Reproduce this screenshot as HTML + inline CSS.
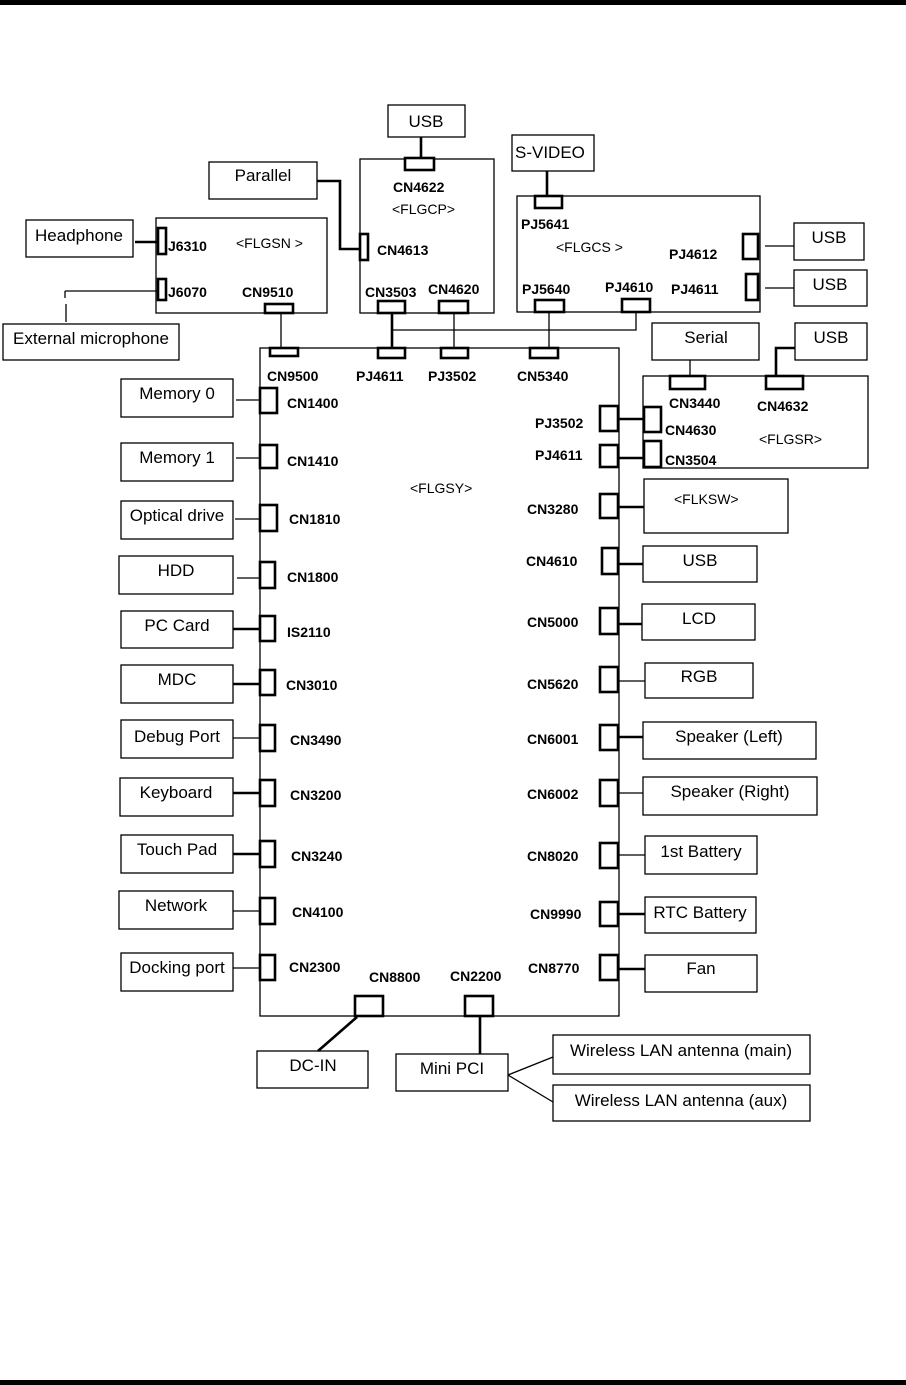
<!DOCTYPE html>
<html><head><meta charset="utf-8"><style>
html,body{margin:0;padding:0;background:#fff}
svg{display:block}
.b{fill:none;stroke:#000;stroke-width:1.3}
.c{fill:#fff;stroke:#000;stroke-width:2.6}
.l{stroke:#000;stroke-width:1.3;fill:none}
.t{stroke:#000;stroke-width:2.6;fill:none}
.n{font-family:"Liberation Sans",sans-serif;font-size:17px;text-anchor:middle}
.k{font-family:"Liberation Sans",sans-serif;font-size:14px;font-weight:bold}
.s{font-family:"Liberation Sans",sans-serif;font-size:14px}
</style></head><body>
<svg width="906" height="1385" viewBox="0 0 906 1385" xmlns="http://www.w3.org/2000/svg">
<rect x="0" y="0" width="906" height="5" fill="#000"/>
<rect x="0" y="1380" width="906" height="5" fill="#000"/>

<!-- main board -->
<rect class="b" x="260" y="348" width="359" height="668"/>
<text class="s" x="410" y="493">&lt;FLGSY&gt;</text>

<!-- FLGSN -->
<rect class="b" x="156" y="218" width="171" height="95"/>
<text class="s" x="236" y="248">&lt;FLGSN &gt;</text>
<rect class="b" x="26" y="220" width="107" height="37"/><text class="n" x="79" y="241">Headphone</text>
<line class="t" x1="135" y1="242" x2="158" y2="242"/>
<rect class="c" x="158" y="228" width="8" height="26"/><text class="k" x="168" y="251">J6310</text>
<rect class="c" x="158" y="279" width="8" height="21"/><text class="k" x="168" y="297">J6070</text>
<polyline class="l" points="158,291 65,291"/><line class="l" x1="65" y1="291" x2="65" y2="298"/><line class="l" x1="66" y1="304" x2="66" y2="322"/>
<rect class="b" x="3" y="324" width="176" height="36"/><text class="n" x="91" y="344">External microphone</text>
<text class="k" x="242" y="297">CN9510</text>
<rect class="c" x="265" y="304" width="28" height="9"/>
<line class="l" x1="281" y1="313" x2="281" y2="348"/>
<rect class="c" x="270" y="348" width="28" height="8"/><text class="k" x="267" y="381">CN9500</text>

<!-- FLGCP -->
<rect class="b" x="360" y="159" width="134" height="154"/>
<rect class="b" x="388" y="105" width="77" height="32"/><text class="n" x="426" y="127">USB</text>
<line class="t" x1="421" y1="137" x2="421" y2="158"/>
<rect class="c" x="405" y="158" width="29" height="12"/>
<text class="k" x="393" y="192">CN4622</text>
<text class="s" x="392" y="214">&lt;FLGCP&gt;</text>
<rect class="b" x="209" y="162" width="108" height="37"/><text class="n" x="263" y="181">Parallel</text>
<polyline class="t" points="317,181 340,181 340,249 360,249"/>
<rect class="c" x="360" y="234" width="8" height="26"/><text class="k" x="377" y="255">CN4613</text>
<text class="k" x="365" y="297">CN3503</text><text class="k" x="428" y="294">CN4620</text>
<rect class="c" x="378" y="301" width="27" height="12"/>
<rect class="c" x="439" y="301" width="29" height="12"/>
<line class="t" x1="392" y1="313" x2="392" y2="348"/>
<line class="l" x1="454" y1="313" x2="454" y2="348"/>
<polyline class="l" points="392,330 636,330 636,312"/>
<rect class="c" x="378" y="348" width="27" height="10"/><text class="k" x="356" y="381">PJ4611</text>
<rect class="c" x="441" y="348" width="27" height="10"/><text class="k" x="428" y="381">PJ3502</text>
<rect class="c" x="530" y="348" width="28" height="10"/><text class="k" x="517" y="381">CN5340</text>

<!-- FLGCS -->
<rect class="b" x="517" y="196" width="243" height="116"/>
<rect class="b" x="512" y="135" width="82" height="36"/><text class="s" x="515" y="158" style="font-size:17px">S-VIDEO</text>
<line class="t" x1="547" y1="171" x2="547" y2="196"/>
<rect class="c" x="535" y="196" width="27" height="12"/>
<text class="k" x="521" y="229">PJ5641</text>
<text class="s" x="556" y="252">&lt;FLGCS &gt;</text>
<text class="k" x="669" y="259">PJ4612</text>
<rect class="c" x="743" y="234" width="15" height="25"/>
<text class="k" x="671" y="294">PJ4611</text>
<rect class="c" x="746" y="274" width="12" height="26"/>
<line class="l" x1="765" y1="246" x2="794" y2="246"/><line class="l" x1="765" y1="288" x2="794" y2="288"/>
<rect class="b" x="794" y="223" width="70" height="37"/><text class="n" x="829" y="243">USB</text>
<rect class="b" x="794" y="270" width="73" height="36"/><text class="n" x="830" y="290">USB</text>
<text class="k" x="522" y="294">PJ5640</text><text class="k" x="605" y="292">PJ4610</text>
<rect class="c" x="535" y="300" width="29" height="12"/>
<rect class="c" x="622" y="299" width="28" height="13"/>
<line class="l" x1="549" y1="312" x2="549" y2="348"/>

<!-- FLGSR -->
<rect class="b" x="643" y="376" width="225" height="92"/>
<rect class="b" x="652" y="323" width="107" height="37"/><text class="n" x="706" y="343">Serial</text>
<line class="l" x1="690" y1="360" x2="690" y2="376"/>
<rect class="c" x="670" y="376" width="35" height="13"/>
<rect class="b" x="795" y="323" width="72" height="37"/><text class="n" x="831" y="343">USB</text>
<polyline class="t" points="795,348 776,348 776,376"/>
<rect class="c" x="766" y="376" width="37" height="13"/>
<text class="k" x="669" y="408">CN3440</text><text class="k" x="757" y="411">CN4632</text>
<rect class="c" x="644" y="407" width="17" height="25"/><text class="k" x="665" y="435">CN4630</text>
<rect class="c" x="644" y="441" width="17" height="26"/><text class="k" x="665" y="465">CN3504</text>
<text class="s" x="759" y="444">&lt;FLGSR&gt;</text>
<rect class="c" x="600" y="406" width="18" height="25"/><text class="k" x="535" y="428">PJ3502</text>
<line class="t" x1="618" y1="419" x2="644" y2="419"/>
<rect class="c" x="600" y="445" width="18" height="22"/><text class="k" x="535" y="460">PJ4611</text>
<line class="t" x1="618" y1="458" x2="644" y2="458"/>
<rect class="c" x="600" y="494" width="18" height="24"/><text class="k" x="527" y="514">CN3280</text>
<line class="t" x1="618" y1="507" x2="644" y2="507"/>
<rect class="b" x="644" y="479" width="144" height="54"/><text class="s" x="674" y="504">&lt;FLKSW&gt;</text>

<!-- right column -->
<g>
<rect class="c" x="602" y="548" width="16" height="26"/><text class="k" x="526" y="566">CN4610</text>
<line class="t" x1="618" y1="564" x2="643" y2="564"/><rect class="b" x="643" y="546" width="114" height="36"/><text class="n" x="700" y="566">USB</text>
<rect class="c" x="600" y="608" width="18" height="26"/><text class="k" x="527" y="627">CN5000</text>
<line class="t" x1="618" y1="624" x2="642" y2="624"/><rect class="b" x="642" y="604" width="113" height="36"/><text class="n" x="699" y="624">LCD</text>
<rect class="c" x="600" y="667" width="18" height="25"/><text class="k" x="527" y="689">CN5620</text>
<line class="l" x1="618" y1="681" x2="645" y2="681"/><rect class="b" x="645" y="663" width="108" height="35"/><text class="n" x="699" y="682">RGB</text>
<rect class="c" x="600" y="725" width="18" height="25"/><text class="k" x="527" y="744">CN6001</text>
<line class="t" x1="618" y1="737" x2="643" y2="737"/><rect class="b" x="643" y="722" width="173" height="37"/><text class="n" x="729" y="742">Speaker (Left)</text>
<rect class="c" x="600" y="780" width="18" height="26"/><text class="k" x="527" y="799">CN6002</text>
<line class="l" x1="618" y1="793" x2="643" y2="793"/><rect class="b" x="643" y="777" width="174" height="38"/><text class="n" x="730" y="797">Speaker (Right)</text>
<rect class="c" x="600" y="843" width="18" height="25"/><text class="k" x="527" y="861">CN8020</text>
<line class="l" x1="618" y1="855" x2="645" y2="855"/><rect class="b" x="645" y="836" width="112" height="38"/><text class="n" x="701" y="857">1st Battery</text>
<rect class="c" x="600" y="902" width="18" height="24"/><text class="k" x="530" y="919">CN9990</text>
<line class="t" x1="618" y1="914" x2="645" y2="914"/><rect class="b" x="645" y="897" width="111" height="36"/><text class="n" x="700" y="918">RTC Battery</text>
<rect class="c" x="600" y="955" width="18" height="25"/><text class="k" x="528" y="973">CN8770</text>
<line class="t" x1="618" y1="969" x2="645" y2="969"/><rect class="b" x="645" y="955" width="112" height="37"/><text class="n" x="701" y="974">Fan</text>
</g>

<!-- left column -->
<g>
<rect class="b" x="121" y="379" width="112" height="38"/><text class="n" x="177" y="399">Memory 0</text>
<line class="l" x1="236" y1="400" x2="260" y2="400"/><rect class="c" x="260" y="388" width="17" height="25"/><text class="k" x="287" y="408">CN1400</text>
<rect class="b" x="121" y="443" width="112" height="38"/><text class="n" x="177" y="463">Memory 1</text>
<line class="l" x1="236" y1="458" x2="260" y2="458"/><rect class="c" x="260" y="445" width="17" height="23"/><text class="k" x="287" y="466">CN1410</text>
<rect class="b" x="121" y="501" width="112" height="38"/><text class="n" x="177" y="521">Optical drive</text>
<line class="l" x1="235" y1="519" x2="260" y2="519"/><rect class="c" x="260" y="505" width="17" height="26"/><text class="k" x="289" y="524">CN1810</text>
<rect class="b" x="119" y="556" width="114" height="38"/><text class="n" x="176" y="576">HDD</text>
<line class="l" x1="237" y1="578" x2="260" y2="578"/><rect class="c" x="260" y="562" width="15" height="26"/><text class="k" x="287" y="582">CN1800</text>
<rect class="b" x="121" y="611" width="112" height="37"/><text class="n" x="177" y="631">PC Card</text>
<line class="t" x1="233" y1="629" x2="260" y2="629"/><rect class="c" x="260" y="616" width="15" height="25"/><text class="k" x="287" y="637">IS2110</text>
<rect class="b" x="121" y="665" width="112" height="38"/><text class="n" x="177" y="685">MDC</text>
<line class="t" x1="233" y1="684" x2="260" y2="684"/><rect class="c" x="260" y="670" width="15" height="25"/><text class="k" x="286" y="690">CN3010</text>
<rect class="b" x="121" y="720" width="112" height="38"/><text class="n" x="177" y="742">Debug Port</text>
<line class="l" x1="233" y1="738" x2="260" y2="738"/><rect class="c" x="260" y="725" width="15" height="26"/><text class="k" x="290" y="745">CN3490</text>
<rect class="b" x="120" y="778" width="113" height="38"/><text class="n" x="176" y="798">Keyboard</text>
<line class="t" x1="233" y1="793" x2="260" y2="793"/><rect class="c" x="260" y="780" width="15" height="26"/><text class="k" x="290" y="800">CN3200</text>
<rect class="b" x="121" y="835" width="112" height="38"/><text class="n" x="177" y="855">Touch Pad</text>
<line class="t" x1="233" y1="854" x2="260" y2="854"/><rect class="c" x="260" y="841" width="15" height="26"/><text class="k" x="291" y="861">CN3240</text>
<rect class="b" x="119" y="891" width="114" height="38"/><text class="n" x="176" y="911">Network</text>
<line class="l" x1="233" y1="911" x2="260" y2="911"/><rect class="c" x="260" y="898" width="15" height="26"/><text class="k" x="292" y="917">CN4100</text>
<rect class="b" x="121" y="953" width="112" height="38"/><text class="n" x="177" y="973">Docking port</text>
<line class="l" x1="233" y1="968" x2="260" y2="968"/><rect class="c" x="260" y="955" width="15" height="25"/><text class="k" x="289" y="972">CN2300</text>
</g>

<!-- bottom -->
<text class="k" x="369" y="982">CN8800</text><text class="k" x="450" y="981">CN2200</text>
<rect class="c" x="355" y="996" width="28" height="20"/>
<rect class="c" x="465" y="996" width="28" height="20"/>
<line class="t" x1="357" y1="1017" x2="318" y2="1051"/>
<line class="t" x1="480" y1="1016" x2="480" y2="1054"/>
<rect class="b" x="257" y="1051" width="111" height="37"/><text class="n" x="313" y="1071">DC-IN</text>
<rect class="b" x="396" y="1054" width="112" height="37"/><text class="n" x="452" y="1074">Mini PCI</text>
<line class="l" x1="508" y1="1075" x2="553" y2="1057"/><line class="l" x1="508" y1="1075" x2="553" y2="1102"/>
<rect class="b" x="553" y="1035" width="257" height="39"/><text class="n" x="681" y="1056">Wireless LAN antenna (main)</text>
<rect class="b" x="553" y="1085" width="257" height="36"/><text class="n" x="681" y="1106">Wireless LAN antenna (aux)</text>
</svg>
</body></html>
